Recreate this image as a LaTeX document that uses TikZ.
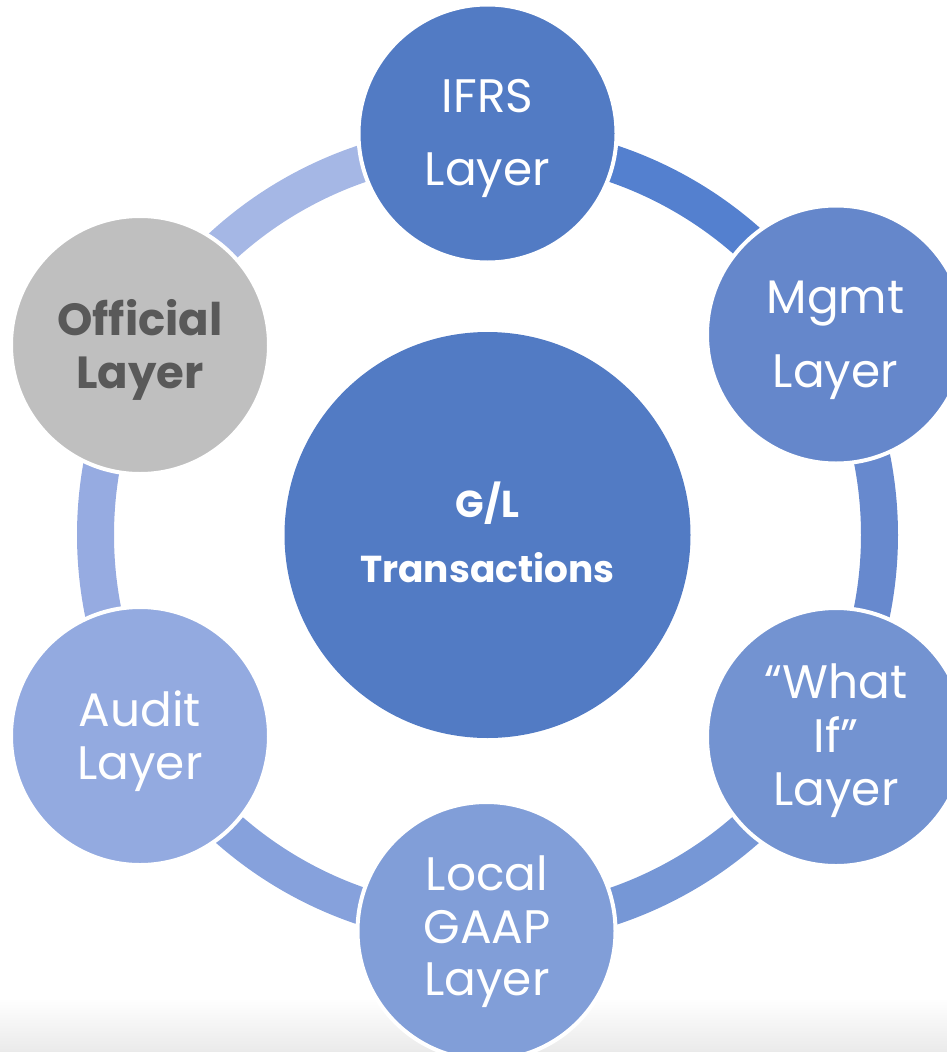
\documentclass[tikz,border=0pt]{standalone}
\usepackage{fontspec}
\setmainfont{Poppins}

% fills of the hub and the six satellites
\definecolor{hubblue}{RGB}{82,123,196}
\definecolor{satA}{RGB}{82,123,196}
\definecolor{satB}{RGB}{101,135,203}
\definecolor{satC}{RGB}{115,147,209}
\definecolor{satD}{RGB}{129,158,216}
\definecolor{satE}{RGB}{147,170,224}
\definecolor{satOff}{RGB}{191,191,191}
\definecolor{offtext}{RGB}{89,89,89}
% ring segments
\definecolor{arcA}{RGB}{84,128,207}
\definecolor{arcB}{RGB}{103,137,206}
\definecolor{arcC}{RGB}{118,151,214}
\definecolor{arcD}{RGB}{134,161,220}
\definecolor{arcE}{RGB}{150,171,225}
\definecolor{arcF}{RGB}{165,183,229}
\definecolor{floorgray}{RGB}{234,234,234}

\begin{document}
\begin{tikzpicture}[x=1pt,y=-1pt,
  sat/.style={circle, draw=white, line width=4pt, minimum size=258pt, inner sep=0pt},
  hub/.style={circle, fill=hubblue, minimum size=406pt, inner sep=0pt},
  ringseg/.style={line width=37pt},
  lbl/.style={anchor=base, text=white, inner sep=0pt, font=\fontsize{47}{47}\selectfont},
  hublbl/.style={anchor=base, text=white, inner sep=0pt, font=\fontsize{37.5}{37.5}\selectfont\bfseries},
  offlbl/.style={anchor=base, text=offtext, inner sep=0pt, font=\fontsize{45}{45}\selectfont\bfseries}
]
\useasboundingbox (0,0) rectangle (947,1052);

% soft floor at the foot of the page
\shade[top color=white, bottom color=floorgray] (0,998) rectangle (947,1052);

% ring centre
\coordinate (c) at (487.5,535);

% ring, one coloured segment between each pair of neighbours
\draw[ringseg, arcA] (c) ++(270:392) arc[start angle=270, end angle=330, radius=392];
\draw[ringseg, arcB] (c) ++(330:392) arc[start angle=330, end angle=390, radius=392];
\draw[ringseg, arcC] (c) ++(30:392)  arc[start angle=30,  end angle=90,  radius=392];
\draw[ringseg, arcD] (c) ++(90:392)  arc[start angle=90,  end angle=150, radius=392];
\draw[ringseg, arcE] (c) ++(150:392) arc[start angle=150, end angle=210, radius=392];
\draw[ringseg, arcF] (c) ++(210:392) arc[start angle=210, end angle=270, radius=392];

% hub
\node[hub] (gl) at (c) {};
\node[hublbl] (gl1) at (487.5,517) {G/L};
\node[hublbl] (gl2) at (487.5,582) {Transactions};

% satellites
\node[sat, fill=satA] (ifrs) at (487.5,133.5) {};
\node[sat, fill=satB] (mgmt) at (836,334.5) {};
\node[sat, fill=satC] (whatif) at (836,737) {};
\node[sat, fill=satD] (local) at (486.5,931) {};
\node[sat, fill=satE] (audit) at (140,736) {};
\node[sat, fill=satOff] (official) at (140,345) {};

% satellite labels
\node[lbl] (ifrs1) at (487.5,112) {IFRS};
\node[lbl] (ifrs2) at (487.5,185) {Layer};

\node[lbl] (mgmt1) at (835.5,313) {Mgmt};
\node[lbl] (mgmt2) at (835.5,387) {Layer};

\node[lbl] (whatif1) at (836,698) {“What};
\node[lbl] (whatif2) at (836,752) {If”};
\node[lbl] (whatif3) at (836,805) {Layer};

\node[lbl] (local1) at (487,890) {Local};
\node[lbl] (local2) at (487,943) {GAAP};
\node[lbl] (local3) at (487,995) {Layer};

\node[lbl] (audit1) at (140,726) {Audit};
\node[lbl] (audit2) at (140,779) {Layer};

\node[offlbl] (off1) at (140,335) {Official};
\node[offlbl] (off2) at (140,388) {Layer};
\end{tikzpicture}
\end{document}
